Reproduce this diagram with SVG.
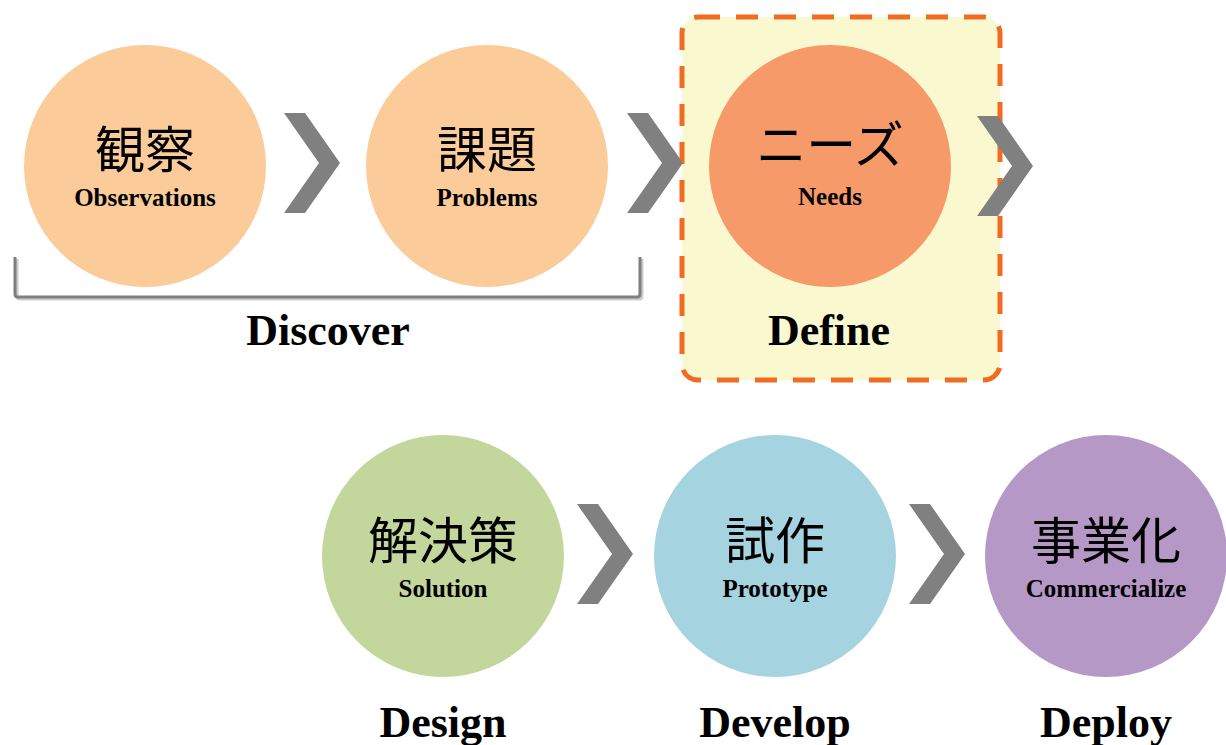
<svg xmlns="http://www.w3.org/2000/svg" width="1226" height="745" viewBox="0 0 1226 745">
<defs>
<style>
.jp{font-family:"Liberation Serif","Noto Sans CJK JP",serif;font-size:50px;fill:#000;text-anchor:middle}
.sub{font-family:"Liberation Serif",serif;font-weight:bold;font-size:25px;fill:#000;text-anchor:middle}
.big{font-family:"Liberation Serif",serif;font-weight:bold;font-size:44px;fill:#000;text-anchor:middle}
.chev{fill:#808080}
</style>
<path id="chev" d="M0,0 L21,0 L56,50 L21,100 L0,100 L35,50 Z"/>
</defs>
<rect x="0" y="0" width="1226" height="745" fill="#ffffff"/>
<g id="define-box">
<rect x="682" y="17" width="318" height="363" rx="16" ry="16" fill="#FAF8CF" stroke="#F26B22" stroke-width="5" stroke-dasharray="22 16"/>
</g>
<g id="discover-bracket">
<path d="M17,259 L17,296 Q17,299 20,299 L639,299 Q642,299 642,296 L642,259" fill="none" stroke="#cccccc" stroke-width="3"/>
<path d="M15,257 L15,294 Q15,297 18,297 L637,297 Q640,297 640,294 L640,257" fill="none" stroke="#7f7f7f" stroke-width="3"/>
</g>
<g id="node-observations">
<circle cx="145" cy="166" r="121" fill="#FBCB99"/>
<text class="jp" x="145" y="168">観察</text>
<text class="sub" x="145" y="206">Observations</text>
</g>
<g id="node-problems">
<circle cx="487" cy="166" r="121" fill="#FBCB99"/>
<text class="jp" x="487" y="168">課題</text>
<text class="sub" x="487" y="206">Problems</text>
</g>
<g id="node-needs">
<circle cx="830" cy="166" r="121" fill="#F59A68"/>
<text class="jp" x="830" y="163">ニーズ</text>
<text class="sub" x="830" y="205">Needs</text>
</g>
<g id="node-solution">
<circle cx="443" cy="556" r="121" fill="#C3D69B"/>
<text class="jp" x="443" y="559">解決策</text>
<text class="sub" x="443" y="597">Solution</text>
</g>
<g id="node-prototype">
<circle cx="775" cy="556" r="121" fill="#A5D3DF"/>
<text class="jp" x="775" y="559">試作</text>
<text class="sub" x="775" y="597">Prototype</text>
</g>
<g id="node-commercialize">
<circle cx="1106" cy="556" r="121" fill="#B598C6"/>
<text class="jp" x="1106" y="559">事業化</text>
<text class="sub" x="1106" y="597">Commercialize</text>
</g>
<g id="labels">
<text class="big" x="328" y="345">Discover</text>
<text class="big" x="829" y="345">Define</text>
<text class="big" x="443" y="737">Design</text>
<text class="big" x="775" y="737">Develop</text>
<text class="big" x="1106" y="737">Deploy</text>
</g>
<g id="connectors">
<use href="#chev" class="chev" x="284" y="113"/>
<use href="#chev" class="chev" x="627" y="113"/>
<use href="#chev" class="chev" x="977" y="116"/>
<use href="#chev" class="chev" x="577" y="504"/>
<use href="#chev" class="chev" x="909" y="504"/>
</g>
</svg>
